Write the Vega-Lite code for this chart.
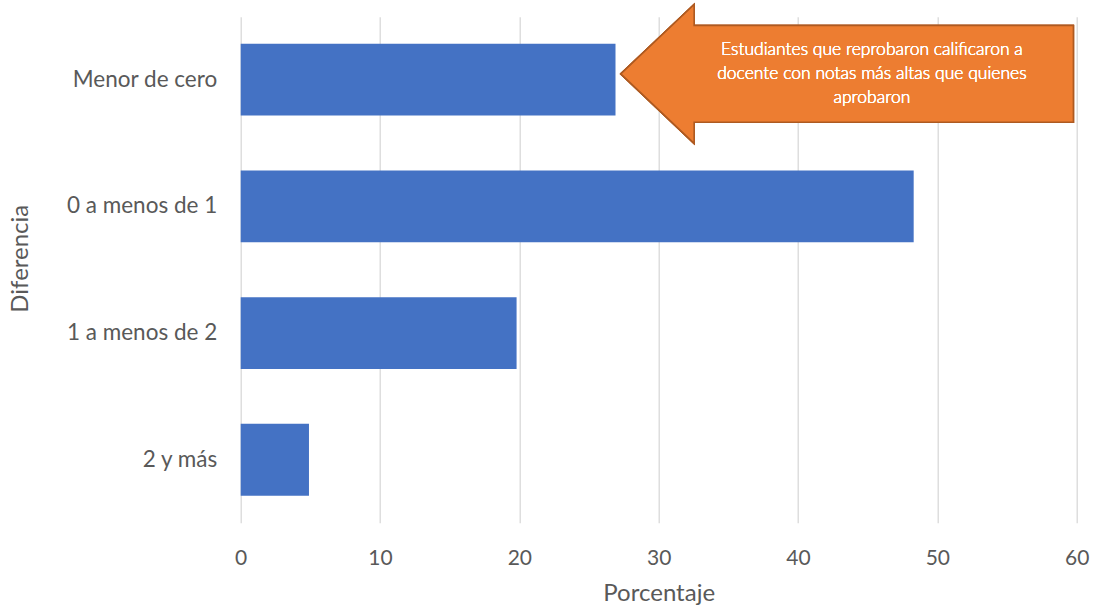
{
  "$schema": "https://vega.github.io/schema/vega-lite/v6.json",
  "autosize": {"type": "none"},
  "padding": {"left": 240.7, "top": 16.7, "right": 18.3, "bottom": 90.3},
  "width": 836,
  "height": 506,
  "background": "white",
  "config": {
    "view": {"stroke": null},
    "font": "Lato",
    "axis": {"labelFont": "Lato", "titleFont": "Lato", "labelColor": "#595959", "titleColor": "#595959", "titleFontWeight": "normal"}
  },
  "data": {
    "values": [
      {"Diferencia": "Menor de cero", "Porcentaje": 26.9},
      {"Diferencia": "0 a menos de 1", "Porcentaje": 48.3},
      {"Diferencia": "1 a menos de 2", "Porcentaje": 19.8},
      {"Diferencia": "2 y más", "Porcentaje": 4.9}
    ]
  },
  "layer": [
    {
      "mark": {"type": "bar", "color": "#4472C4"},
      "encoding": {
        "y": {
          "field": "Diferencia",
          "type": "nominal",
          "sort": ["Menor de cero", "0 a menos de 1", "1 a menos de 2", "2 y más"],
          "scale": {"paddingInner": 0.433, "paddingOuter": 0.213},
          "axis": {
            "title": "Diferencia",
            "domain": false,
            "ticks": false,
            "labelFontSize": 22.5,
            "labelPadding": 24,
            "titleFontSize": 24,
            "titleX": -220,
            "titleY": 241.5,
            "titleBaseline": "middle",
            "titleAngle": 270
          }
        },
        "x": {
          "field": "Porcentaje",
          "type": "quantitative",
          "scale": {"domain": [0, 60], "nice": false},
          "axis": {
            "title": "Porcentaje",
            "values": [0, 10, 20, 30, 40, 50, 60],
            "domain": false,
            "ticks": false,
            "grid": true,
            "gridColor": "#D9D9D9",
            "gridWidth": 1.3,
            "labelFontSize": 21,
            "labelFlush": false,
            "labelPadding": 25,
            "labelBaseline": "top",
            "titleFontSize": 24,
            "titleX": 418,
            "titleY": 71,
            "titleBaseline": "middle"
          }
        }
      }
    },
    {
      "mark": {
        "type": "point",
        "shape": "M-1,0L-0.676,-0.307L-0.676,-0.2135L1,-0.2135L1,0.2135L-0.676,0.2135L-0.676,0.307Z",
        "filled": true,
        "fill": "#ED7D31",
        "stroke": "#AE5A21",
        "strokeWidth": 1.5,
        "opacity": 1,
        "fillOpacity": 1,
        "size": 204847,
        "yOffset": -5.7
      },
      "encoding": {
        "x": {"datum": 43.52, "type": "quantitative"},
        "y": {"datum": "Menor de cero", "type": "nominal"}
      }
    },
    {
      "mark": {
        "type": "text",
        "text": ["Estudiantes que reprobaron calificaron a", "docente con notas más altas que quienes", "aprobaron"],
        "color": "white",
        "font": "Lato",
        "fontSize": 17.5,
        "fontWeight": 300,
        "lineHeight": 24,
        "align": "center",
        "baseline": "middle",
        "yOffset": -30
      },
      "encoding": {
        "x": {"datum": 45.3, "type": "quantitative"},
        "y": {"datum": "Menor de cero", "type": "nominal"}
      }
    }
  ]
}
